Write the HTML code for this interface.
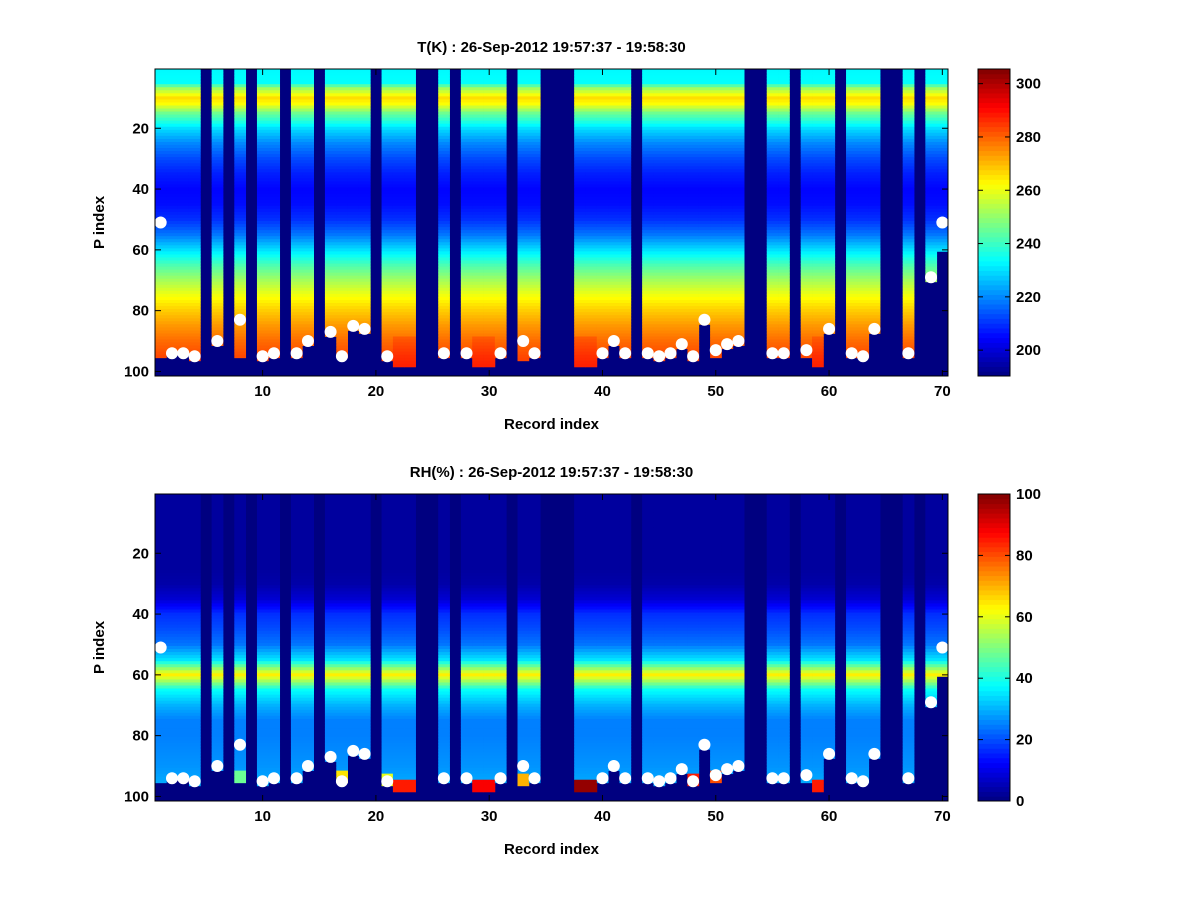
<!DOCTYPE html>
<html><head><meta charset="utf-8"><style>
body{margin:0;background:#fff;}
svg text{font-family:"Liberation Sans",sans-serif;font-weight:bold;font-size:15px;fill:#000;}
</style></head><body>
<svg id="fig" width="1200" height="900" xmlns="http://www.w3.org/2000/svg">
<rect width="1200" height="900" fill="#fff"/>
<g id="top"></g>
<g id="bot"></g>
</svg>
<script>
const records=[];for(let i=1;i<=70;i++)records.push(i);
const missing=[5,7,9,12,15,20,24,25,27,32,35,36,37,43,53,54,57,61,65,66,68];
const dotRec=[1,2,3,4,6,8,10,11,13,14,16,17,18,19,21,26,28,31,33,34,40,41,42,44,45,46,47,48,49,50,51,52,55,56,58,60,62,63,64,67,69,70];
const dotP=[51,94,94,95,90,83,95,94,94,90,87,95,85,86,95,94,94,94,90,94,94,90,94,94,95,94,91,95,83,93,91,90,94,94,93,86,94,95,86,94,69,51];
const bottomRec=[1,8,17,22,23,29,30,33,38,39,48,50,59,13,2,3,63,67,58,69,70];
const bottomP=[95,95,95,98,98,98,98,96,98,98,96,95,98,95,94,94,95,95,95,70,60];
const profP=[1,5,7,10,12,15,20,25,30,35,40,45,50,55,60,65,70,75,80,85,90,95,101];
const tProf=[233,234,252,266,262,246,230,220,213,208,205,206,210,218,230,242,252,261,268,274,279,283,286];
const rhProf=[3,3,3,3,3,3,3,3,4,8,17,20,24,35,64,38,30,25,25,26,27,29,32];
const rhBotRec=[8,17,22,23,29,30,38,39,48,59,33,50,21];
const rhBotVal=[48,65,85,85,88,88,98,98,85,85,70,80,60];
const tTicks=[200,220,240,260,280,300];
const rhTicks=[0,20,40,60,80,100];
const xTicks=[10,20,30,40,50,60,70];
const yTicks=[20,40,60,80,100];

function jet(v){v=Math.max(0,Math.min(1,v));
 const f=t=>Math.max(0,Math.min(1,1.5-Math.abs(4*v-t)));
 return `rgb(${Math.round(255*f(3))},${Math.round(255*f(2))},${Math.round(255*f(1))})`;}
function interp(p,arr){for(let i=1;i<profP.length;i++){if(p<=profP[i]){const t=(p-profP[i-1])/(profP[i]-profP[i-1]);return arr[i-1]+t*(arr[i]-arr[i-1]);}}return arr[arr.length-1];}
const NS="http://www.w3.org/2000/svg";
function el(tag,attrs,parent){const e=document.createElementNS(NS,tag);for(const k in attrs)e.setAttribute(k,attrs[k]);parent.appendChild(e);return e;}

function panel(g,top,bot,title,valFn,vmin,vmax,ticks){
 const L=155,R=948,W=R-L;
 const x=r=>L+(r-0.5)*W/70;
 const y=p=>top+(p-0.5)*(bot-top)/101;
 const bg=el('rect',{x:L,y:top,width:W,height:bot-top,fill:jet(0)},g);
 
 
 const cells=el('g',{},g);
 
 
 records.forEach(r=>{
  if(missing.includes(r))return;
  let b=dotP[dotRec.indexOf(r)]+1;
  const bi=bottomRec.indexOf(r);if(bi>=0)b=bottomP[bi];
  for(let p=1;p<=b;p++){
   const v=valFn(r,p,b);
   el('rect',{x:x(r-0.5).toFixed(2),y:y(p-0.5).toFixed(2),width:(W/70+0.4).toFixed(2),height:((bot-top)/101+0.4).toFixed(2),fill:jet((v-vmin)/(vmax-vmin))},cells);
  }
 });
 dotRec.forEach((r,i)=>{const c=el('circle',{cx:x(r),cy:y(dotP[i]),r:6,fill:'#fff'},g);
  
  });
 el('rect',{x:L,y:top,width:W,height:bot-top,fill:'none',stroke:'#000','stroke-width':1},g);
 xTicks.forEach(t=>{const X=x(t);el('line',{x1:X,y1:bot,x2:X,y2:bot-6,stroke:'#000'},g);el('line',{x1:X,y1:top,x2:X,y2:top+6,stroke:'#000'},g);
  const tx=el('text',{x:X,y:bot+20,'text-anchor':'middle'},g);tx.textContent=t;
  
  });
 yTicks.forEach(t=>{const Y=y(t);el('line',{x1:L,y1:Y,x2:L+6,y2:Y,stroke:'#000'},g);el('line',{x1:R,y1:Y,x2:R-6,y2:Y,stroke:'#000'},g);
  const tx=el('text',{x:L-6,y:Y+5,'text-anchor':'end'},g);tx.textContent=t;
  
  });
 const tt=el('text',{x:(L+R)/2,y:top-17,'text-anchor':'middle','font-size':'15'},g);tt.textContent=title;
 
 
 const xl=el('text',{x:(L+R)/2,y:bot+53,'text-anchor':'middle','font-size':'17'},g);xl.textContent='Record index';
 
 
 const yl=el('text',{x:0,y:0,'text-anchor':'middle','font-size':'17',transform:`translate(104,${(top+bot)/2}) rotate(-90)`},g);yl.textContent='P index';
 
 
 const cb=el('g',{},g);
 
 
 const CL=978,CW=32,n=64;
 for(let i=0;i<n;i++){el('rect',{x:CL,y:(bot-(i+1)*(bot-top)/n).toFixed(2),width:CW,height:((bot-top)/n+0.5).toFixed(2),fill:jet((i+0.5)/n)},cb);}
 el('rect',{x:CL,y:top,width:CW,height:bot-top,fill:'none',stroke:'#000'},cb);
 ticks.forEach(t=>{const Y=bot-(t-vmin)/(vmax-vmin)*(bot-top);
  el('line',{x1:CL,y1:Y,x2:CL+5,y2:Y,stroke:'#000'},cb);el('line',{x1:CL+CW,y1:Y,x2:CL+CW-5,y2:Y,stroke:'#000'},cb);
  const tx=el('text',{x:CL+CW+6,y:Y+5},cb);tx.textContent=t;
  
  });
}
panel(document.getElementById('top'),69,376,'T(K) : 26-Sep-2012 19:57:37 - 19:58:30',
 (r,p,b)=>interp(p,tProf)+(b>=97&&p>88?3:0),190.3,305.5,tTicks);
panel(document.getElementById('bot'),494,801,'RH(%) : 26-Sep-2012 19:57:37 - 19:58:30',
 (r,p,b)=>{const i=rhBotRec.indexOf(r);if(i>=0&&p>b-4)return rhBotVal[i];return interp(p,rhProf);},0,100,rhTicks);
</script>
</body></html>
